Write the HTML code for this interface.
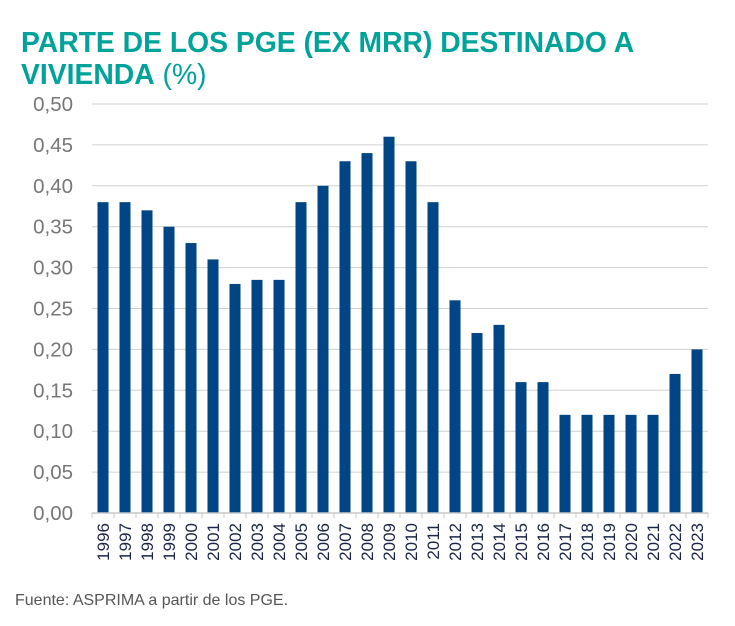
<!DOCTYPE html>
<html><head><meta charset="utf-8"><style>
body{margin:0;background:#fff;width:735px;height:621px;overflow:hidden;font-family:"Liberation Sans",sans-serif}
</style></head><body>
<svg width="735" height="621">
<text x="21" y="52" fill="#00a39a" font-weight="bold" font-size="28.3">PARTE DE LOS PGE (EX MRR) DESTINADO A</text>
<text x="21" y="84" fill="#00a39a" font-size="28.3"><tspan font-weight="bold">VIVIENDA</tspan> (%)</text>
<g id="grid"></g><g id="bars"></g><g id="xaxis"></g>
<text x="15" y="605" fill="#555" font-size="16">Fuente: ASPRIMA a partir de los PGE.</text>
</svg>
<script>
const years=["1996","1997","1998","1999","2000","2001","2002","2003","2004","2005","2006","2007","2008","2009","2010","2011","2012","2013","2014","2015","2016","2017","2018","2019","2020","2021","2022","2023"];
const values=[0.38,0.38,0.37,0.35,0.33,0.31,0.28,0.285,0.285,0.38,0.40,0.43,0.44,0.46,0.43,0.38,0.26,0.22,0.23,0.16,0.16,0.12,0.12,0.12,0.12,0.12,0.17,0.20];
const yTicks=[0,0.05,0.10,0.15,0.20,0.25,0.30,0.35,0.40,0.45,0.50];
const NS="http://www.w3.org/2000/svg";
const x0=92,x1=708,y0=513,y1=104,ymax=0.5;
const step=(x1-x0)/years.length;
const y=v=>y0-(v/ymax)*(y0-y1);
function mk(t,a,p){const e=document.createElementNS(NS,t);for(const k in a)e.setAttribute(k,a[k]);p.appendChild(e);return e;}
const g=document.getElementById('grid'),b=document.getElementById('bars'),xa=document.getElementById('xaxis');
yTicks.forEach(t=>{
 if(t>0){const l=mk('line',{x1:x0,x2:x1,y1:y(t),y2:y(t),stroke:'#d0d0d0','stroke-width':1},g);
 
 }
 const tx=mk('text',{x:73,y:y(t)+7,'text-anchor':'end','font-size':20.5,fill:'#777'},g);
 tx.textContent=t.toFixed(2).replace('.',',');
 
 
});
const ax=mk('line',{x1:x0,x2:x1,y1:y0,y2:y0,stroke:'#c8c8c8','stroke-width':1.5},xa);


for(let i=0;i<=years.length;i++){mk('line',{x1:x0+i*step,x2:x0+i*step,y1:y0,y2:y0+5,stroke:'#c8c8c8'},xa);}
years.forEach((yr,i)=>{
 const cx=x0+step*(i+0.5),bw=11;
 const r=mk('rect',{x:cx-bw/2,y:y(values[i]),width:bw,height:y0-y(values[i]),fill:'#004585'},b);
 
 
 const t=mk('text',{x:0,y:0,'font-size':17,fill:'#1b2448','text-anchor':'end',transform:`translate(${cx+6},${y0+10}) rotate(-90)`},xa);
 t.textContent=yr;
 
 
});
</script>
</body></html>
